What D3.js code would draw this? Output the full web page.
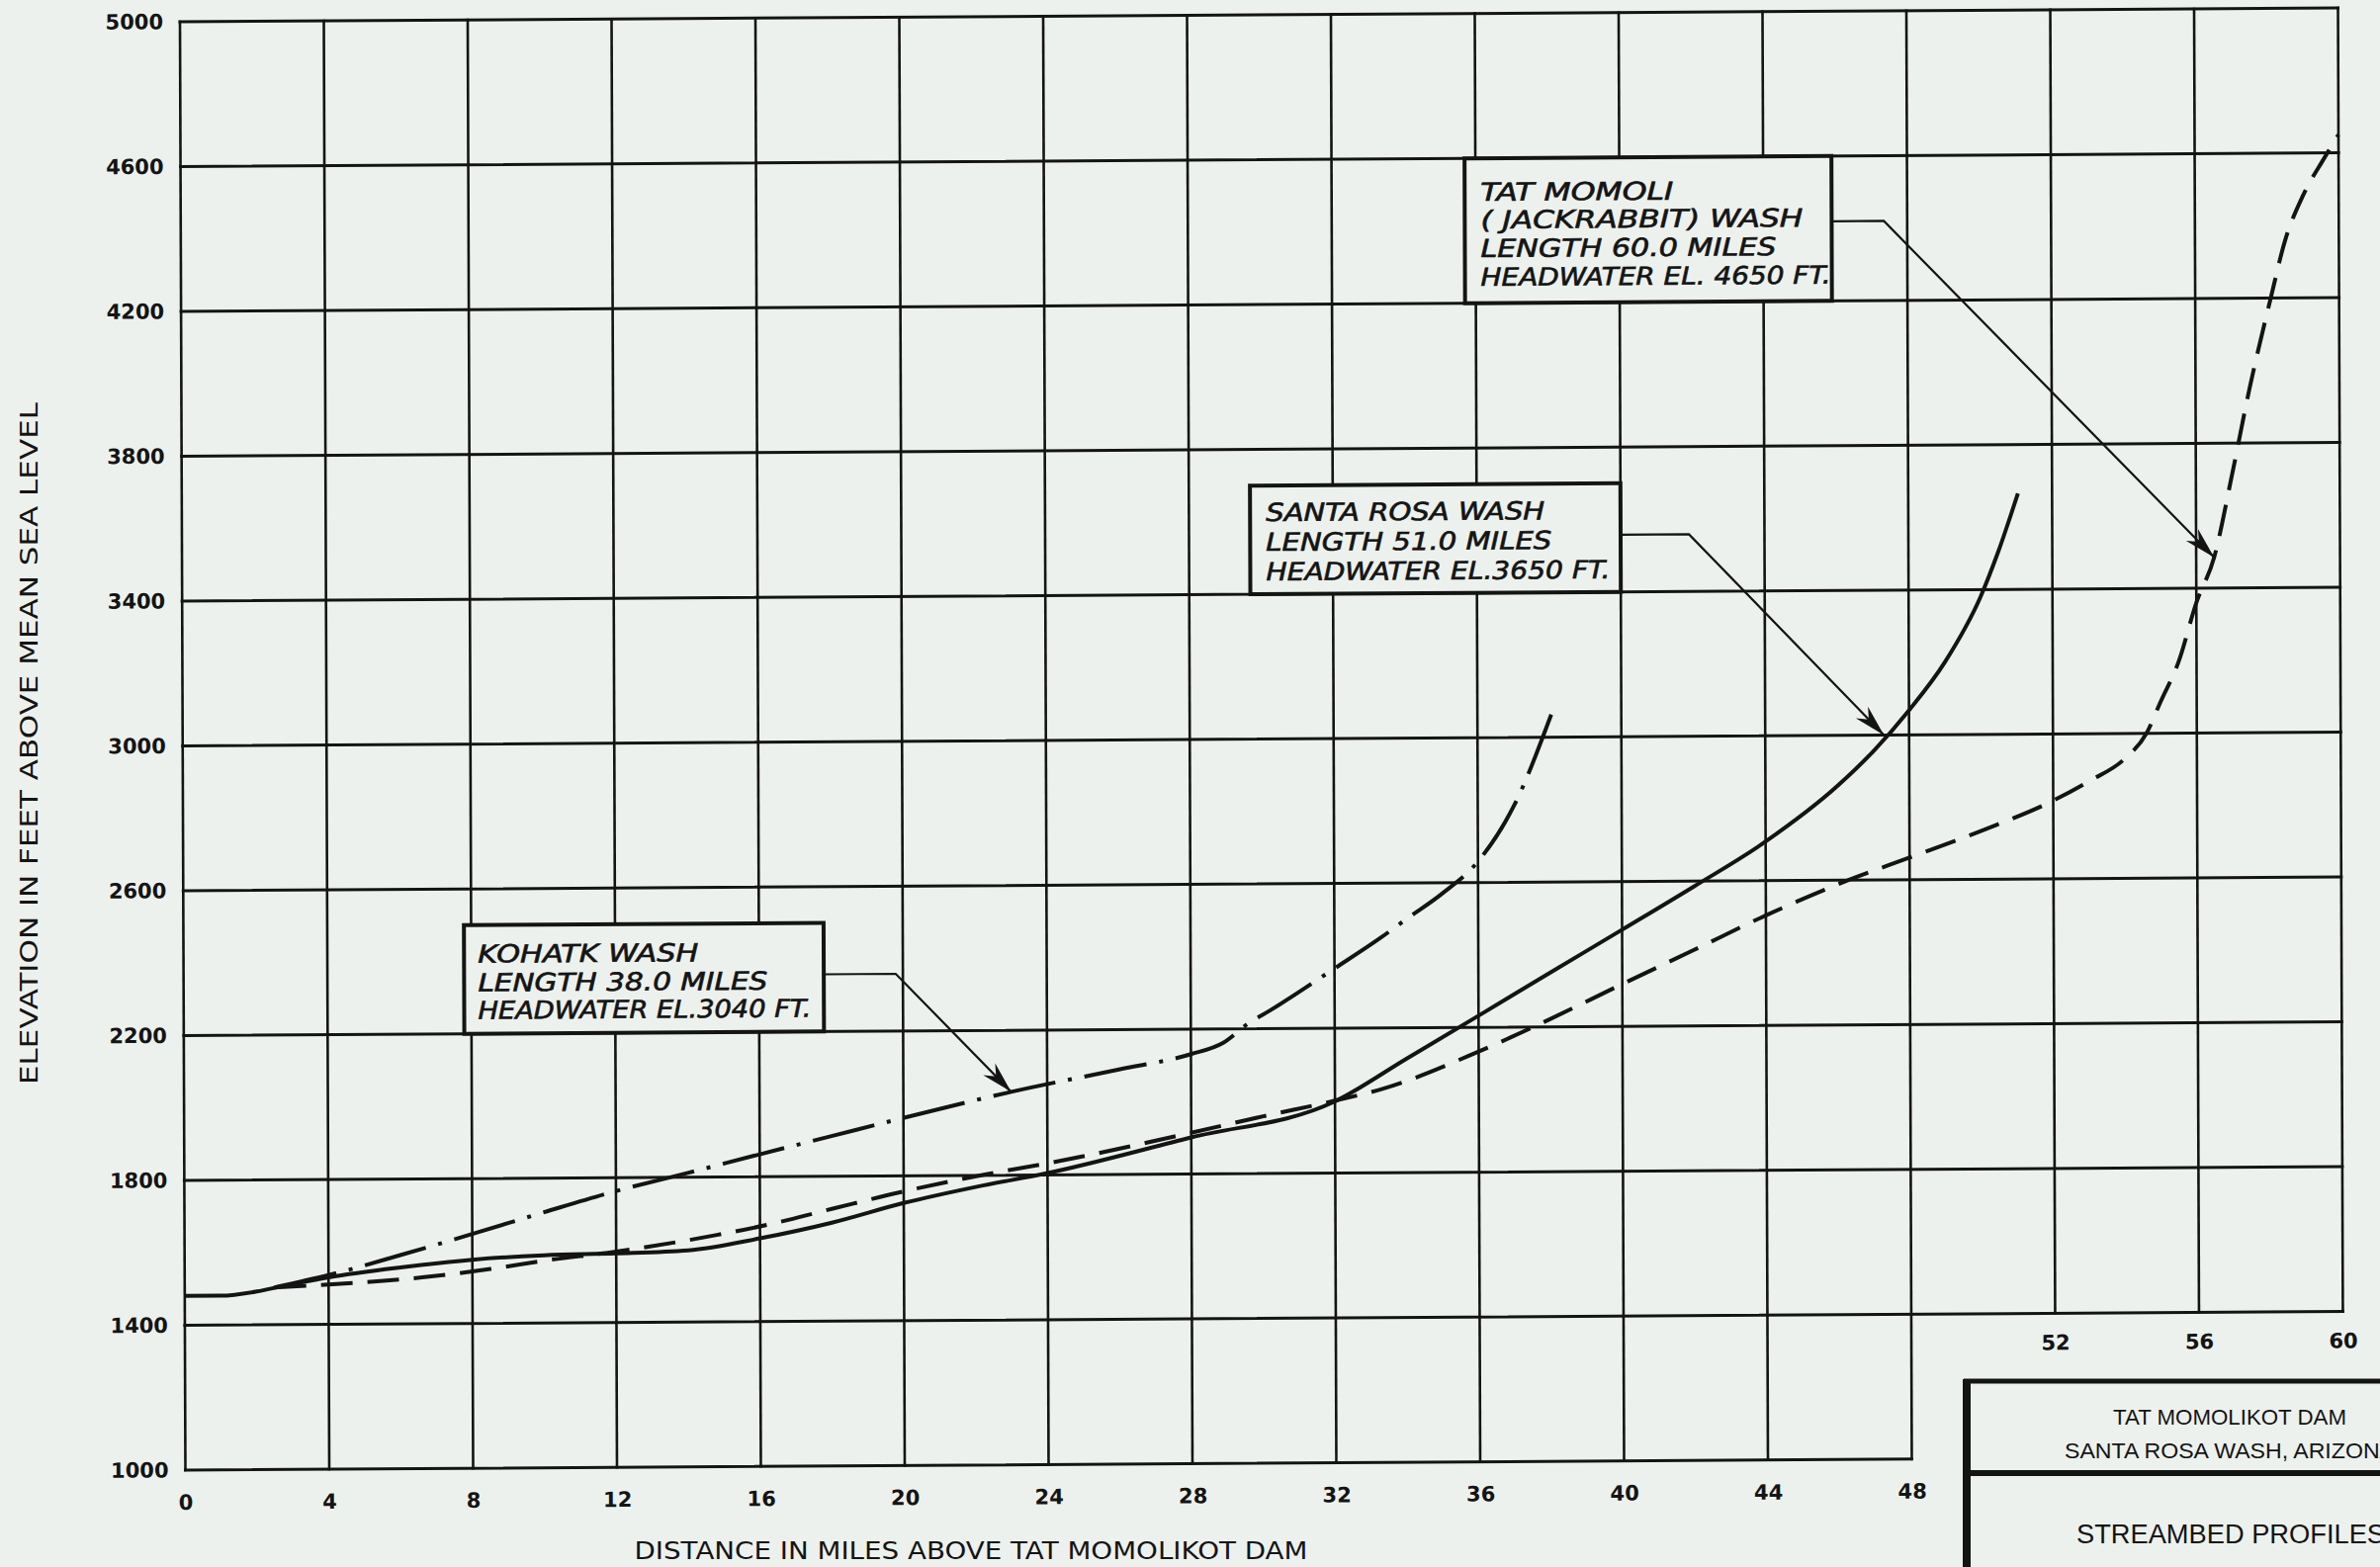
<!DOCTYPE html>
<html>
<head>
<meta charset="utf-8">
<script src="https://cdn.jsdelivr.net/npm/d3@7/dist/d3.min.js"></script>
<style>
  html, body { margin: 0; padding: 0; background: #edf1ee; }
  svg { display: block; }
</style>
</head>
<body>
<div id="chart"></div>
<script>
var width = 2407;
var height = 1585;

// distance above the dam (miles) and elevation (ft) grid
var xTicksLow = [0, 4, 8, 12, 16, 20, 24, 28, 32, 36, 40, 44, 48];
var xTicksHigh = [52, 56, 60];
var yTicks = [1000, 1400, 1800, 2200, 2600, 3000, 3400, 3800, 4200, 4600, 5000];

// streambed profiles: [miles, feet]
var santaRosa = [[0, 1481], [1, 1481], [2, 1492], [2.7, 1506], [4, 1530], [6, 1556], [8, 1576],
  [10, 1587], [12, 1591], [14, 1598], [16, 1630], [18, 1672], [20, 1725], [22, 1768], [24, 1805],
  [28, 1901], [32, 1998], [34, 2115], [36, 2232], [38, 2350], [40, 2467], [42, 2585], [44, 2708],
  [46, 2860], [47, 2955], [48, 3068], [49, 3200], [50, 3380], [50.5, 3505], [51.05, 3665]];

var tatMomoli = [[2.5, 1503], [4, 1510], [6.6, 1528], [8.5, 1550], [10, 1572], [12, 1596],
  [14.8, 1640], [16.2, 1667], [18, 1710], [20, 1757], [22.3, 1803], [24, 1832], [28, 1914],
  [30, 1958], [32, 2000], [33.3, 2031], [36, 2133], [38, 2222], [40, 2317], [42, 2410], [44, 2504],
  [46.3, 2600], [48, 2661], [50, 2734], [52, 2816], [53, 2869], [54, 2931], [54.6, 3000], [55, 3088],
  [55.5, 3197], [56, 3360], [56.5, 3485], [57, 3710], [57.5, 3950], [58.1, 4200], [58.5, 4357],
  [59, 4481], [59.6, 4585], [60, 4650]];

var kohatk = [[2.5, 1503], [4, 1536], [6, 1590], [8, 1647], [10, 1706], [12, 1763], [14, 1812],
  [16, 1862], [18, 1911], [20, 1960], [23, 2030], [26, 2090], [28, 2131], [28.9, 2162], [29.6, 2215],
  [30.2, 2250], [32, 2365], [33.3, 2450], [34, 2500], [35, 2570], [36, 2658], [37, 2810], [38.1, 3075]];

var tatLabel = ["TAT  MOMOLI", "( JACKRABBIT)  WASH", "LENGTH  60.0  MILES", "HEADWATER EL. 4650 FT."];
var santaLabel = ["SANTA  ROSA  WASH", "LENGTH  51.0  MILES", "HEADWATER EL.3650  FT."];
var kohatkLabel = ["KOHATK   WASH", "LENGTH  38.0  MILES", "HEADWATER EL.3040  FT."];

var ink = "#141414";
var paper = "#edf1ee";

var plotLeft = 187.5, plotRight = 2370, plotTop = 22, plotBottom = 1487;
// the scanned sheet is slightly skewed
var skewX = 0.00375, skewY = -0.0064;

var x = d3.scaleLinear().domain([0, 60]).range([plotLeft, plotRight]);
var y = d3.scaleLinear().domain([1000, 5000]).range([plotBottom, plotTop]);

var svg = d3.select("#chart")
  .append("svg")
  .attr("width", width)
  .attr("height", height);

svg.append("rect")
  .attr("width", width)
  .attr("height", height)
  .attr("fill", paper);

svg.append("defs").append("marker")
  .attr("id", "arrow")
  .attr("markerUnits", "userSpaceOnUse")
  .attr("viewBox", "-34 -10 36 20")
  .attr("markerWidth", 36)
  .attr("markerHeight", 20)
  .attr("refX", 0)
  .attr("refY", 0)
  .attr("orient", "auto")
  .append("path")
  .attr("d", "M0,0 L-32,-8.5 L-22,0 L-32,8.5 Z")
  .attr("fill", ink);

var plot = svg.append("g")
  .attr("transform", "matrix(1," + skewY + "," + skewX + ",1," + (-skewX * plotBottom) + "," + (-skewY * plotLeft) + ")");

// grid, with the lower right corner left open for the title block
plot.append("g")
  .selectAll("line")
  .data(yTicks)
  .enter()
  .append("line")
  .attr("x1", x(0))
  .attr("x2", d => d === 1000 ? x(48) : x(60))
  .attr("y1", d => y(d))
  .attr("y2", d => y(d))
  .attr("stroke", ink)
  .attr("stroke-width", 3)
  .attr("stroke-linecap", "square");

plot.append("g")
  .selectAll("line")
  .data(xTicksLow.concat(xTicksHigh))
  .enter()
  .append("line")
  .attr("x1", d => x(d))
  .attr("x2", d => x(d))
  .attr("y1", d => d > 48 ? y(1400) : y(1000))
  .attr("y2", y(5000))
  .attr("stroke", ink)
  .attr("stroke-width", 2.6)
  .attr("stroke-linecap", "square");

function styleTicks(g) {
  g.select(".domain").remove();
  g.selectAll("text")
    .attr("fill", ink)
    .attr("font-family", "DejaVu Sans")
    .attr("font-weight", "bold")
    .attr("font-size", 21);
}

plot.append("g")
  .attr("transform", "translate(" + plotLeft + ",0)")
  .call(d3.axisLeft(y).tickValues(yTicks).tickSize(0).tickPadding(17).tickFormat(d3.format("d")))
  .call(styleTicks);

plot.append("g")
  .attr("transform", "translate(0," + plotBottom + ")")
  .call(d3.axisBottom(x).tickValues(xTicksLow).tickSize(0).tickPadding(25).tickFormat(d3.format("d")))
  .call(styleTicks);

plot.append("g")
  .attr("transform", "translate(0," + y(1400) + ")")
  .call(d3.axisBottom(x).tickValues(xTicksHigh).tickSize(0).tickPadding(22).tickFormat(d3.format("d")))
  .call(styleTicks);

// profiles
var line = d3.line()
  .x(d => x(d[0]))
  .y(d => y(d[1]))
  .curve(d3.curveMonotoneX);

plot.append("path")
  .datum(santaRosa)
  .attr("d", line)
  .attr("fill", "none")
  .attr("stroke", ink)
  .attr("stroke-width", 4);

plot.append("path")
  .datum(tatMomoli)
  .attr("d", line)
  .attr("fill", "none")
  .attr("stroke", ink)
  .attr("stroke-width", 4)
  .attr("stroke-dasharray", "32,15");

plot.append("path")
  .datum(kohatk)
  .attr("d", line)
  .attr("fill", "none")
  .attr("stroke", ink)
  .attr("stroke-width", 4)
  .attr("stroke-dasharray", "64,13,4,13");

// labelled boxes with leaders
var notes = [
  { lines: tatLabel, x0: 35.7, x1: 45.9, y0: 4200, y1: 4600, dx: 16,
    base: [43, 71, 100, 129], widths: [195, 326, 299, 354], lead: 66, elbow: 47.35, tip: [56.5, 3485] },
  { lines: santaLabel, x0: 29.7, x1: 40, y0: 3400, y1: 3700, dx: 16,
    base: [36, 66, 96], widths: [282, 289, 348], lead: 52, elbow: 41.9, tip: [47.3, 3000] },
  { lines: kohatkLabel, x0: 7.8, x1: 17.8, y0: 2200, y1: 2500, dx: 14,
    base: [38, 67, 95], widths: [223, 293, 337], lead: 52, elbow: 19.8, tip: [23, 2030] }
];

notes.forEach(note => {
  var g = plot.append("g");
  var bx = x(note.x0), by = y(note.y1);

  g.append("path")
    .attr("d", "M" + x(note.x1) + "," + (by + note.lead) + "H" + x(note.elbow) +
      "L" + x(note.tip[0]) + "," + y(note.tip[1]))
    .attr("fill", "none")
    .attr("stroke", ink)
    .attr("stroke-width", 2.2)
    .attr("marker-end", "url(#arrow)");

  g.append("rect")
    .attr("x", bx)
    .attr("y", by)
    .attr("width", x(note.x1) - bx)
    .attr("height", y(note.y0) - by)
    .attr("fill", paper)
    .attr("stroke", ink)
    .attr("stroke-width", 4);

  g.selectAll("text")
    .data(note.lines)
    .enter()
    .append("text")
    .attr("x", bx + note.dx)
    .attr("y", (d, i) => by + note.base[i])
    .attr("textLength", (d, i) => note.widths[i])
    .attr("lengthAdjust", "spacingAndGlyphs")
    .attr("font-family", "Liberation Sans Narrow, DejaVu Sans Condensed, sans-serif")
    .attr("font-style", "italic")
    .attr("font-size", 25)
    .attr("fill", ink)
    .attr("stroke", ink)
    .attr("stroke-width", 0.6)
    .text(d => d);
});

// axis titles
svg.append("text")
  .attr("transform", "translate(38,752) rotate(-90)")
  .attr("text-anchor", "middle")
  .attr("font-family", "DejaVu Sans")
  .attr("font-size", 24)
  .attr("textLength", 690)
  .attr("lengthAdjust", "spacingAndGlyphs")
  .attr("fill", ink)
  .text("ELEVATION  IN  FEET  ABOVE  MEAN  SEA  LEVEL");

svg.append("text")
  .attr("x", 982)
  .attr("y", 1577)
  .attr("text-anchor", "middle")
  .attr("font-family", "DejaVu Sans")
  .attr("font-size", 24)
  .attr("textLength", 681)
  .attr("lengthAdjust", "spacingAndGlyphs")
  .attr("fill", ink)
  .text("DISTANCE  IN  MILES  ABOVE  TAT  MOMOLIKOT  DAM");

// title block in the corner
var block = svg.append("g");
block.append("rect")
  .attr("x", 1989)
  .attr("y", 1397)
  .attr("width", 500)
  .attr("height", 300)
  .attr("fill", paper);
block.append("line")
  .attr("x1", 1986).attr("x2", 2420).attr("y1", 1397).attr("y2", 1397)
  .attr("stroke", ink).attr("stroke-width", 5);
block.append("line")
  .attr("x1", 1989).attr("x2", 1989).attr("y1", 1395).attr("y2", 1600)
  .attr("stroke", ink).attr("stroke-width", 8);
block.append("line")
  .attr("x1", 1989).attr("x2", 2420).attr("y1", 1490).attr("y2", 1490)
  .attr("stroke", ink).attr("stroke-width", 6);

var blockText = [
  { t: "TAT MOMOLIKOT DAM", x: 2137, y: 1441, w: 236, s: 22 },
  { t: "SANTA ROSA WASH, ARIZONA", x: 2088, y: 1475, w: 334, s: 22 },
  { t: "STREAMBED PROFILES", x: 2100, y: 1561, w: 312, s: 27 }
];
block.selectAll("text")
  .data(blockText)
  .enter()
  .append("text")
  .attr("x", d => d.x)
  .attr("y", d => d.y)
  .attr("textLength", d => d.w)
  .attr("lengthAdjust", "spacingAndGlyphs")
  .attr("font-family", "Liberation Sans")
  .attr("font-size", d => d.s)
  .attr("fill", ink)
  .text(d => d.t);
</script>
</body>
</html>
